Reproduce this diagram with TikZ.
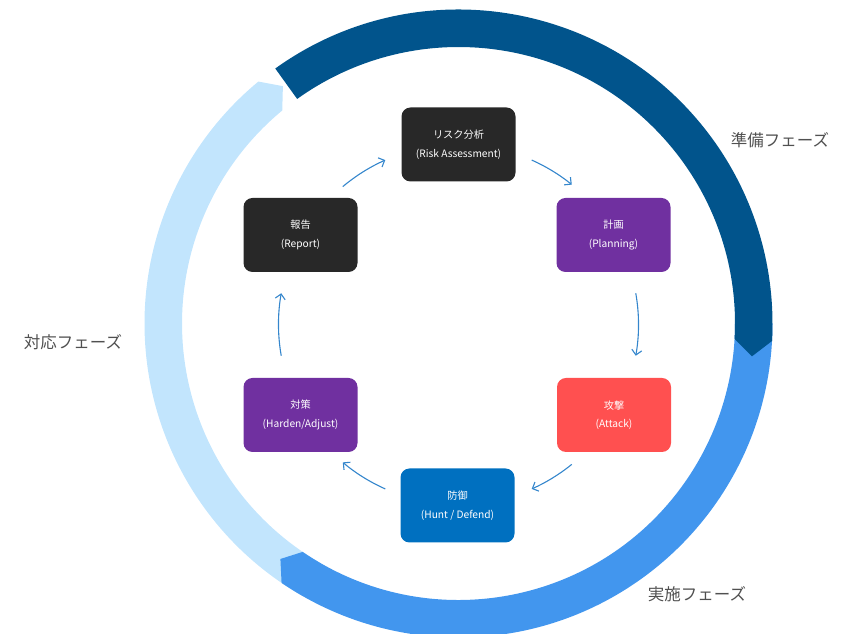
\documentclass[tikz,border=0pt]{standalone}
\usepackage{fontspec}
\setmainfont{Noto Sans CJK JP}
\usetikzlibrary{arrows.meta}

\definecolor{ringdark}{RGB}{1,84,140}
\definecolor{ringmid}{RGB}{66,150,238}
\definecolor{ringlight}{RGB}{194,229,253}
\definecolor{boxdark}{RGB}{40,40,40}
\definecolor{boxpurple}{RGB}{112,48,160}
\definecolor{boxred}{RGB}{255,80,80}
\definecolor{boxblue}{RGB}{0,112,192}
\definecolor{flowblue}{RGB}{52,134,204}
\definecolor{phasegray}{RGB}{80,80,80}

\tikzset{
  stagebox/.style={rounded corners=9pt, minimum width=114pt, minimum height=74pt,
    text=white, align=center, inner sep=0pt, font=\fontsize{10.2}{18.5}\selectfont},
  flow/.style={draw=flowblue, line width=1.1pt, -{Straight Barb[length=5pt,width=10pt]}},
  phase/.style={text=phasegray, font=\fontsize{16.5}{20}\selectfont}
}

% ring segment: start angle, base angle of the pointed end, tip angle
\newcommand{\ringseg}[4]{%
  \fill[#4] (#1:314) arc[start angle=#1, end angle=#2, radius=314]
    -- (#3:295.25) -- (#2:276.5)
    arc[start angle=#2, end angle=#1, radius=276.5] -- cycle;}

\begin{document}
\begin{tikzpicture}[x=1pt,y=1pt]
\useasboundingbox (0,0) rectangle (844,634);

% outer phase ring
\begin{scope}[shift={(458.5,310.5)}]
  \ringseg{240}{129.6}{126.5}{ringlight}
  \ringseg{0}{-124.3}{-127.1}{ringmid}
  \ringseg{125.7}{-3.2}{-6.4}{ringdark}
\end{scope}

% phase labels
\node[phase] (prep) at (780,494) {準備フェーズ};
\node[phase] (exec) at (697,40) {実施フェーズ};
\node[phase] (resp) at (73,292) {対応フェーズ};

% stages
\node[stagebox, fill=boxdark]   (risk)   at (458.5,489.5) {リスク分析\\(Risk Assessment)};
\node[stagebox, fill=boxpurple] (plan)   at (613.5,399) {計画\\(Planning)};
\node[stagebox, fill=boxred]    (attack) at (614,219) {攻撃\\(Attack)};
\node[stagebox, fill=boxblue]   (defend) at (457.5,128.5) {防御\\(Hunt / Defend)};
\node[stagebox, fill=boxpurple] (harden) at (300.5,219) {対策\\(Harden/Adjust)};
\node[stagebox, fill=boxdark]   (report) at (300.5,399) {報告\\(Report)};

% cycle arrows on a circle round the stages
\begin{scope}[shift={(458.5,309.5)}]
  \coordinate (f1) at (130:180);
  \coordinate (f2) at (66:180);
  \coordinate (f3) at (10:180);
  \coordinate (f4) at (-51:180);
  \coordinate (f5) at (-114:180);
  \coordinate (f6) at (190:180);
\end{scope}
\draw[flow] (f1) arc[start angle=130, end angle=114, radius=180];
\draw[flow] (f2) arc[start angle=66, end angle=51, radius=180];
\draw[flow] (f3) arc[start angle=10, end angle=-10, radius=180];
\draw[flow] (f4) arc[start angle=-51, end angle=-66, radius=180];
\draw[flow] (f5) arc[start angle=-114, end angle=-130, radius=180];
\draw[flow] (f6) arc[start angle=190, end angle=170, radius=180];
\end{tikzpicture}
\end{document}
